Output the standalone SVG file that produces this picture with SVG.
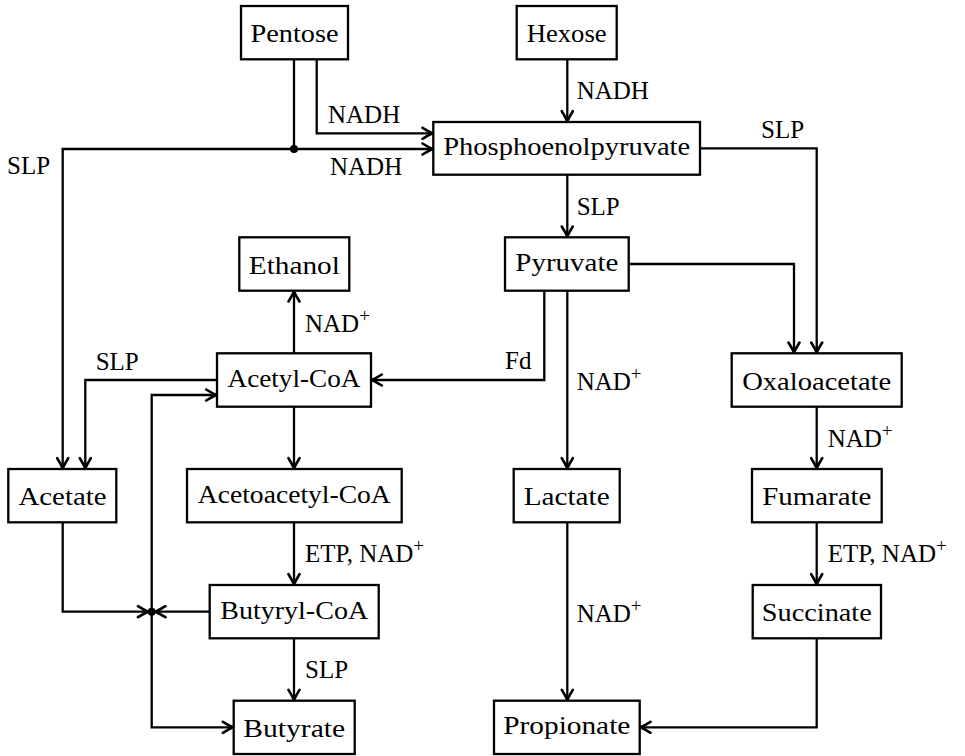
<svg xmlns="http://www.w3.org/2000/svg" width="965" height="756" viewBox="0 0 965 756">
<style>
.box{fill:#fff;stroke:#000;stroke-width:2.3}
.nt{font-family:"Liberation Serif","DejaVu Serif",serif;font-size:25px;text-anchor:middle;fill:#000}
.lb{font-family:"Liberation Serif","DejaVu Serif",serif;font-size:25px;fill:#000}
.sup{font-size:19px}
.ln{fill:none;stroke:#000;stroke-width:2.3}
.ar{marker-end:url(#arr)}
</style>
<defs>
<marker id="arr" viewBox="-12 -7 14 14" refX="0" refY="0" markerWidth="14" markerHeight="14" markerUnits="userSpaceOnUse" orient="auto">
<path d="M-10,-5.5 Q-4,-1.8 0,0 Q-4,1.8 -10,5.5" fill="none" stroke="#000" stroke-width="2.6" stroke-linecap="round" stroke-linejoin="round"/>
</marker>
</defs>
<rect width="965" height="756" fill="#fff"/>
<g id="connectors">
<path class="ln ar" d="M316.7,59.3 V133.3 H432.5"/>
<path class="ln" d="M294,59.3 V149"/>
<path class="ln ar" d="M294,149 H432.5"/>
<path class="ln ar" d="M294,149 H62.7 V468.2"/>
<path class="ln ar" d="M567.3,59.3 V121.2"/>
<path class="ln ar" d="M700,148.3 H816.7 V352.5"/>
<path class="ln ar" d="M567.3,174.7 V236.5"/>
<path class="ln ar" d="M628.7,264 H794 V352.5"/>
<path class="ln ar" d="M544.3,290.7 V380 H371.8"/>
<path class="ln ar" d="M567.3,290.7 V468.2"/>
<path class="ln ar" d="M294,353.3 V291.5"/>
<path class="ln ar" d="M217,380 H85.3 V468.2"/>
<path class="ln ar" d="M294,406.7 V468.2"/>
<path class="ln ar" d="M294,522.3 V584.2"/>
<path class="ln ar" d="M294,638.3 V699.9"/>
<path class="ln ar" d="M62.7,522.3 V611.7 H148"/>
<path class="ln ar" d="M209.7,611.7 H155.4"/>
<path class="ln ar" d="M151.7,611.7 V395 H216.2"/>
<path class="ln ar" d="M151.7,611.7 V727.3 H232.9"/>
<path class="ln ar" d="M567.3,522.3 V699.9"/>
<path class="ln ar" d="M816.7,406.7 V468.2"/>
<path class="ln ar" d="M816.7,522.3 V584.2"/>
<path class="ln ar" d="M816.7,638.3 V727.3 H640.5"/>
<circle cx="294" cy="149" r="4" fill="#000"/>
<circle cx="151.7" cy="611.7" r="4" fill="#000"/>
<text class="lb" x="328" y="123">NADH</text>
<text class="lb" x="330" y="175">NADH</text>
<text class="lb" x="7" y="174">SLP</text>
<text class="lb" x="576.7" y="99">NADH</text>
<text class="lb" x="761" y="138">SLP</text>
<text class="lb" x="576.7" y="215">SLP</text>
<text class="lb" x="505" y="369.3">Fd</text>
<text class="lb" x="576.7" y="390">NAD<tspan class="sup" dy="-10">+</tspan></text>
<text class="lb" x="305" y="331.7">NAD<tspan class="sup" dy="-10">+</tspan></text>
<text class="lb" x="95.7" y="370">SLP</text>
<text class="lb" x="305" y="561.7">ETP, NAD<tspan class="sup" dy="-10">+</tspan></text>
<text class="lb" x="305" y="678.3">SLP</text>
<text class="lb" x="576.7" y="621.7">NAD<tspan class="sup" dy="-10">+</tspan></text>
<text class="lb" x="827.7" y="446.7">NAD<tspan class="sup" dy="-10">+</tspan></text>
<text class="lb" x="827.7" y="561.7">ETP, NAD<tspan class="sup" dy="-10">+</tspan></text>
</g>
<g id="pentose"><rect class="box" x="241" y="6" width="107" height="53.3"/><text class="nt" x="294.5" y="42" textLength="88" lengthAdjust="spacingAndGlyphs">Pentose</text></g>
<g id="hexose"><rect class="box" x="516.7" y="6" width="100" height="53.3"/><text class="nt" x="566.7" y="42" textLength="80" lengthAdjust="spacingAndGlyphs">Hexose</text></g>
<g id="pep"><rect class="box" x="433.3" y="122" width="266.7" height="52.7"/><text class="nt" x="566.7" y="155.3" textLength="247" lengthAdjust="spacingAndGlyphs">Phosphoenolpyruvate</text></g>
<g id="ethanol"><rect class="box" x="239.3" y="237.3" width="110" height="53.4"/><text class="nt" x="294.3" y="273.5" textLength="91" lengthAdjust="spacingAndGlyphs">Ethanol</text></g>
<g id="pyruvate"><rect class="box" x="505" y="237.3" width="123.7" height="53.4"/><text class="nt" x="566.8" y="271" textLength="103" lengthAdjust="spacingAndGlyphs">Pyruvate</text></g>
<g id="acetylcoa"><rect class="box" x="217" y="353.3" width="154" height="53.4"/><text class="nt" x="294" y="387" textLength="133" lengthAdjust="spacingAndGlyphs">Acetyl-CoA</text></g>
<g id="oxaloacetate"><rect class="box" x="731.7" y="353.3" width="170" height="53.4"/><text class="nt" x="816.7" y="389.5" textLength="149" lengthAdjust="spacingAndGlyphs">Oxaloacetate</text></g>
<g id="acetate"><rect class="box" x="8.3" y="469" width="108" height="53.3"/><text class="nt" x="62.5" y="505.2" textLength="88" lengthAdjust="spacingAndGlyphs">Acetate</text></g>
<g id="acetoacetylcoa"><rect class="box" x="187" y="469" width="214.7" height="53.3"/><text class="nt" x="294.3" y="502.7" textLength="193" lengthAdjust="spacingAndGlyphs">Acetoacetyl-CoA</text></g>
<g id="lactate"><rect class="box" x="513.7" y="469" width="106" height="53.3"/><text class="nt" x="566.7" y="505.2" textLength="86" lengthAdjust="spacingAndGlyphs">Lactate</text></g>
<g id="fumarate"><rect class="box" x="752" y="469" width="129.7" height="53.3"/><text class="nt" x="816.8" y="505.2" textLength="109" lengthAdjust="spacingAndGlyphs">Fumarate</text></g>
<g id="butyrylcoa"><rect class="box" x="209.7" y="585" width="169" height="53.3"/><text class="nt" x="294.2" y="618.7" textLength="148" lengthAdjust="spacingAndGlyphs">Butyryl-CoA</text></g>
<g id="succinate"><rect class="box" x="752.7" y="585" width="128.3" height="53.3"/><text class="nt" x="816.8" y="621.2" textLength="110" lengthAdjust="spacingAndGlyphs">Succinate</text></g>
<g id="butyrate"><rect class="box" x="233.7" y="700.7" width="121" height="53.3"/><text class="nt" x="294.2" y="736.8" textLength="102" lengthAdjust="spacingAndGlyphs">Butyrate</text></g>
<g id="propionate"><rect class="box" x="494" y="700.7" width="145.7" height="53.3"/><text class="nt" x="566.8" y="734.3" textLength="127" lengthAdjust="spacingAndGlyphs">Propionate</text></g>
</svg>
